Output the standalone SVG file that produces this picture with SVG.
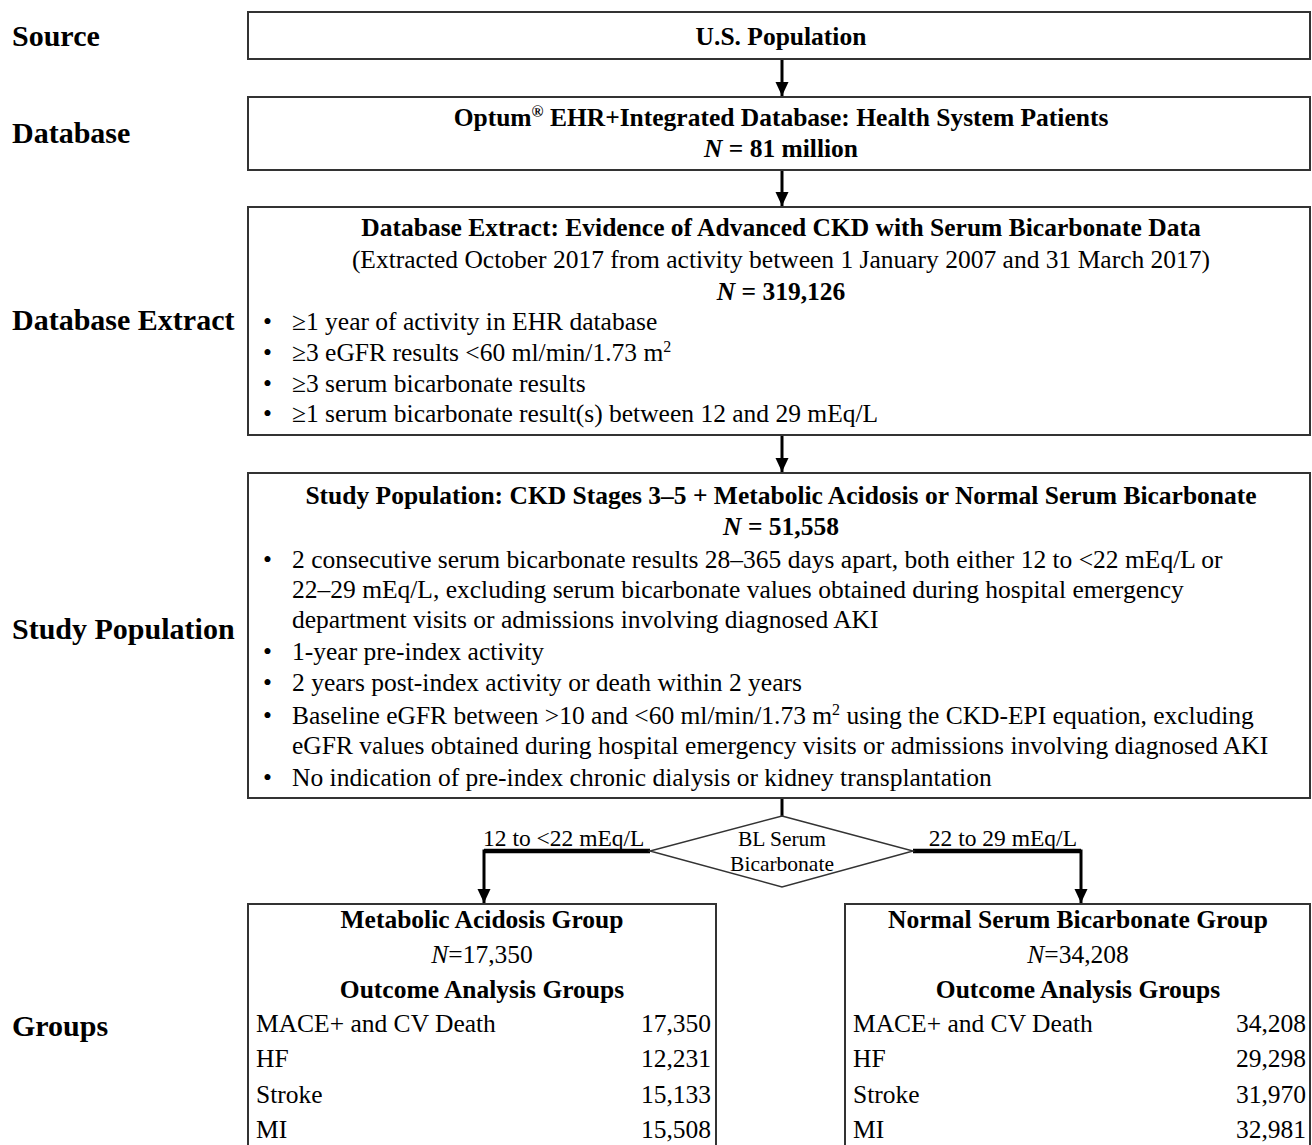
<svg xmlns="http://www.w3.org/2000/svg" width="1312" height="1145" viewBox="0 0 1312 1145">
<defs>
<style>
text{font-family:"Liberation Serif","Times New Roman",serif;fill:#000;}
.lbl{font-size:30px;font-weight:bold;}
.t{font-size:25.5px;}
.b{font-weight:bold;}
.c{text-anchor:middle;}
.e{text-anchor:end;}
.sm{font-size:23.5px;}
.dm{font-size:21.5px;}
.box{fill:#fff;stroke:#333;stroke-width:2;}
.con{fill:none;stroke:#000;stroke-width:3;}
</style>
<marker id="ahd" markerUnits="userSpaceOnUse" markerWidth="13" markerHeight="14" viewBox="0 0 13 14" refX="14" refY="6.5" orient="auto">
<path d="M0,0 L14,6.5 L0,13 Z" fill="#000"/>
</marker>
</defs>
<rect width="1312" height="1145" fill="#fff"/>

<g id="stage-labels">
<text class="lbl" x="12" y="46">Source</text>
<text class="lbl" x="12" y="143">Database</text>
<text class="lbl" x="12" y="330">Database Extract</text>
<text class="lbl" x="12" y="639">Study Population</text>
<text class="lbl" x="12" y="1036">Groups</text>
</g>

<g id="connectors">
<line class="con" x1="782" y1="59" x2="782" y2="96" marker-end="url(#ahd)"/>
<line class="con" x1="782" y1="170" x2="782" y2="206" marker-end="url(#ahd)"/>
<line class="con" x1="782" y1="435" x2="782" y2="472" marker-end="url(#ahd)"/>
<line class="con" x1="782" y1="798" x2="782" y2="816"/>
<path class="con" d="M650,851 H484 V903" marker-end="url(#ahd)"/>
<path class="con" d="M913,851 H1081 V903" marker-end="url(#ahd)"/>
<line x1="650" y1="851" x2="484" y2="851" stroke="#000" stroke-width="4.5"/>
<line x1="913" y1="851" x2="1081" y2="851" stroke="#000" stroke-width="4.5"/>
<text class="t sm" x="483" y="846">12 to &lt;22 mEq/L</text>
<text class="t sm e" x="1077" y="846">22 to 29 mEq/L</text>
</g>

<g id="node-source">
<rect class="box" x="248" y="12" width="1062" height="47"/>
<text class="t b c" x="781" y="45">U.S. Population</text>
</g>

<g id="node-database">
<rect class="box" x="248" y="97" width="1062" height="73"/>
<text class="t b c" x="781" y="126">Optum<tspan font-size="16" dy="-9">®</tspan><tspan dy="9"> EHR+Integrated Database: Health System Patients</tspan></text>
<text class="t b c" x="781" y="157"><tspan font-style="italic">N</tspan> = 81 million</text>
</g>

<g id="node-extract">
<rect class="box" x="248" y="207" width="1062" height="228"/>
<text class="t b c" x="781" y="236">Database Extract: Evidence of Advanced CKD with Serum Bicarbonate Data</text>
<text class="t c" x="781" y="268">(Extracted October 2017 from activity between 1 January 2007 and 31 March 2017)</text>
<text class="t b c" x="781" y="300"><tspan font-style="italic">N</tspan> = 319,126</text>
<text class="t" x="263" y="330">•</text><text class="t" x="292" y="330">≥1 year of activity in EHR database</text>
<text class="t" x="263" y="361">•</text><text class="t" x="292" y="361">≥3 eGFR results &lt;60 ml/min/1.73 m<tspan font-size="16" dy="-9">2</tspan></text>
<text class="t" x="263" y="392">•</text><text class="t" x="292" y="392">≥3 serum bicarbonate results</text>
<text class="t" x="263" y="422">•</text><text class="t" x="292" y="422">≥1 serum bicarbonate result(s) between 12 and 29 mEq/L</text>
</g>

<g id="node-study">
<rect class="box" x="248" y="473" width="1062" height="325"/>
<text class="t b c" x="781" y="504">Study Population: CKD Stages 3–5 + Metabolic Acidosis or Normal Serum Bicarbonate</text>
<text class="t b c" x="781" y="535"><tspan font-style="italic">N</tspan> = 51,558</text>
<text class="t" x="263" y="568">•</text><text class="t" x="292" y="568">2 consecutive serum bicarbonate results 28–365 days apart, both either 12 to &lt;22 mEq/L or</text>
<text class="t" x="292" y="598">22–29 mEq/L, excluding serum bicarbonate values obtained during hospital emergency</text>
<text class="t" x="292" y="628">department visits or admissions involving diagnosed AKI</text>
<text class="t" x="263" y="660">•</text><text class="t" x="292" y="660">1-year pre-index activity</text>
<text class="t" x="263" y="691">•</text><text class="t" x="292" y="691">2 years post-index activity or death within 2 years</text>
<text class="t" x="263" y="724">•</text><text class="t" x="292" y="724">Baseline eGFR between &gt;10 and &lt;60 ml/min/1.73 m<tspan font-size="16" dy="-9">2</tspan><tspan dy="9"> using the CKD-EPI equation, excluding</tspan></text>
<text class="t" x="292" y="754">eGFR values obtained during hospital emergency visits or admissions involving diagnosed AKI</text>
<text class="t" x="263" y="786">•</text><text class="t" x="292" y="786">No indication of pre-index chronic dialysis or kidney transplantation</text>
</g>

<g id="node-decision">
<polygon points="782,816 913,851 782,887 650,851" fill="#fff" stroke="#333" stroke-width="1.5"/>
<text class="t dm c" x="782" y="846">BL Serum</text>
<text class="t dm c" x="782" y="871">Bicarbonate</text>
</g>

<g id="node-acidosis">
<rect class="box" x="248" y="904" width="468" height="260"/>
<text class="t b c" x="482" y="928">Metabolic Acidosis Group</text>
<text class="t c" x="482" y="963"><tspan font-style="italic">N</tspan>=17,350</text>
<text class="t b c" x="482" y="998">Outcome Analysis Groups</text>
<text class="t" x="256" y="1032">MACE+ and CV Death</text><text class="t e" x="711" y="1032">17,350</text>
<text class="t" x="256" y="1067">HF</text><text class="t e" x="711" y="1067">12,231</text>
<text class="t" x="256" y="1103">Stroke</text><text class="t e" x="711" y="1103">15,133</text>
<text class="t" x="256" y="1138">MI</text><text class="t e" x="711" y="1138">15,508</text>
</g>

<g id="node-normal">
<rect class="box" x="845" y="904" width="465" height="260"/>
<text class="t b c" x="1078" y="928">Normal Serum Bicarbonate Group</text>
<text class="t c" x="1078" y="963"><tspan font-style="italic">N</tspan>=34,208</text>
<text class="t b c" x="1078" y="998">Outcome Analysis Groups</text>
<text class="t" x="853" y="1032">MACE+ and CV Death</text><text class="t e" x="1306" y="1032">34,208</text>
<text class="t" x="853" y="1067">HF</text><text class="t e" x="1306" y="1067">29,298</text>
<text class="t" x="853" y="1103">Stroke</text><text class="t e" x="1306" y="1103">31,970</text>
<text class="t" x="853" y="1138">MI</text><text class="t e" x="1306" y="1138">32,981</text>
</g>
</svg>
